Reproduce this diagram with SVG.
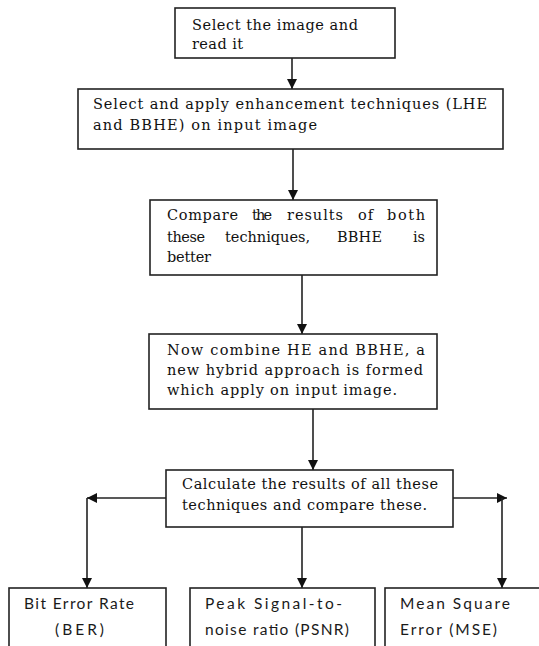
<svg xmlns="http://www.w3.org/2000/svg" width="539" height="646" viewBox="0 0 539 646">
<style>
.box{fill:#fff;stroke:#222;stroke-width:1.6}
.t{font-family:"DejaVu Serif","Liberation Serif",serif;font-size:14.5px;fill:#111}
.s{font-family:Lato,"Open Sans","Liberation Sans",sans-serif;font-size:15.5px;fill:#1a1a1a}
.c{fill:none;stroke:#222;stroke-width:1.6}
</style>
<defs>
<marker id="ah" markerUnits="userSpaceOnUse" markerWidth="10" markerHeight="10" viewBox="0 0 10 10" refX="10" refY="5" orient="auto">
<path d="M0,0 L10,5 L0,10 z" fill="#111"/>
</marker>
</defs>
<rect width="539" height="646" fill="#fff"/>
<g id="connectors">
<path class="c" d="M292,58 V89" marker-end="url(#ah)"/>
<path class="c" d="M293,149 V200" marker-end="url(#ah)"/>
<path class="c" d="M302,275 V334" marker-end="url(#ah)"/>
<path class="c" d="M313,409 V470" marker-end="url(#ah)"/>
<path class="c" d="M166,498 H87" marker-end="url(#ah)"/>
<path class="c" d="M87,498 V588" marker-end="url(#ah)"/>
<path class="c" d="M302,527 V588" marker-end="url(#ah)"/>
<path class="c" d="M453,498 H507" marker-end="url(#ah)"/>
<path class="c" d="M502,498 V588" marker-end="url(#ah)"/>
</g>
<g id="n1">
<rect class="box" x="175" y="8" width="220" height="50"/>
<text class="t" x="192" y="30" textLength="166">Select the image and</text>
<text class="t" x="192" y="49" textLength="51">read it</text>
</g>
<g id="n2">
<rect class="box" x="78" y="89" width="425" height="60"/>
<text class="t" x="93" y="109" textLength="394">Select and apply enhancement techniques (LHE</text>
<text class="t" x="93" y="130" textLength="224">and BBHE) on input image</text>
</g>
<g id="n3">
<rect class="box" x="150" y="200" width="287" height="75"/>
<text class="t" y="220"><tspan x="167" textLength="71">Compare</tspan><tspan x="252" textLength="20">the</tspan><tspan x="287" textLength="56">results</tspan><tspan x="358" textLength="15">of</tspan><tspan x="387" textLength="38">both</tspan></text>
<text class="t" y="242"><tspan x="167" textLength="38">these</tspan><tspan x="225" textLength="85">techniques,</tspan><tspan x="337" textLength="45">BBHE</tspan><tspan x="413" textLength="12">is</tspan></text>
<text class="t" x="167" y="262" textLength="44">better</text>
</g>
<g id="n4">
<rect class="box" x="149" y="334" width="288" height="75"/>
<text class="t" x="167" y="355" textLength="258">Now combine HE and BBHE, a</text>
<text class="t" x="167" y="375" textLength="256">new hybrid approach is formed</text>
<text class="t" x="167" y="395" textLength="230">which apply on input image.</text>
</g>
<g id="n5">
<rect class="box" x="166" y="470" width="287" height="57"/>
<text class="t" x="182" y="489" textLength="256">Calculate the results of all these</text>
<text class="t" x="182" y="510" textLength="245">techniques and compare these.</text>
</g>
<g id="n6">
<rect class="box" x="9" y="588" width="157" height="80"/>
<text class="s" x="24" y="609" textLength="110">Bit Error Rate</text>
<text class="s" x="55" y="635" textLength="49">(BER)</text>
</g>
<g id="n7">
<rect class="box" x="190" y="588" width="185" height="80"/>
<text class="s" x="205" y="609" textLength="137">Peak Signal-to-</text>
<text class="s" x="205" y="635" textLength="144">noise ratio (PSNR)</text>
</g>
<g id="n8">
<rect class="box" x="385" y="588" width="170" height="80"/>
<text class="s" x="400" y="609" textLength="110">Mean Square</text>
<text class="s" x="400" y="635" textLength="97">Error (MSE)</text>
</g>
</svg>
